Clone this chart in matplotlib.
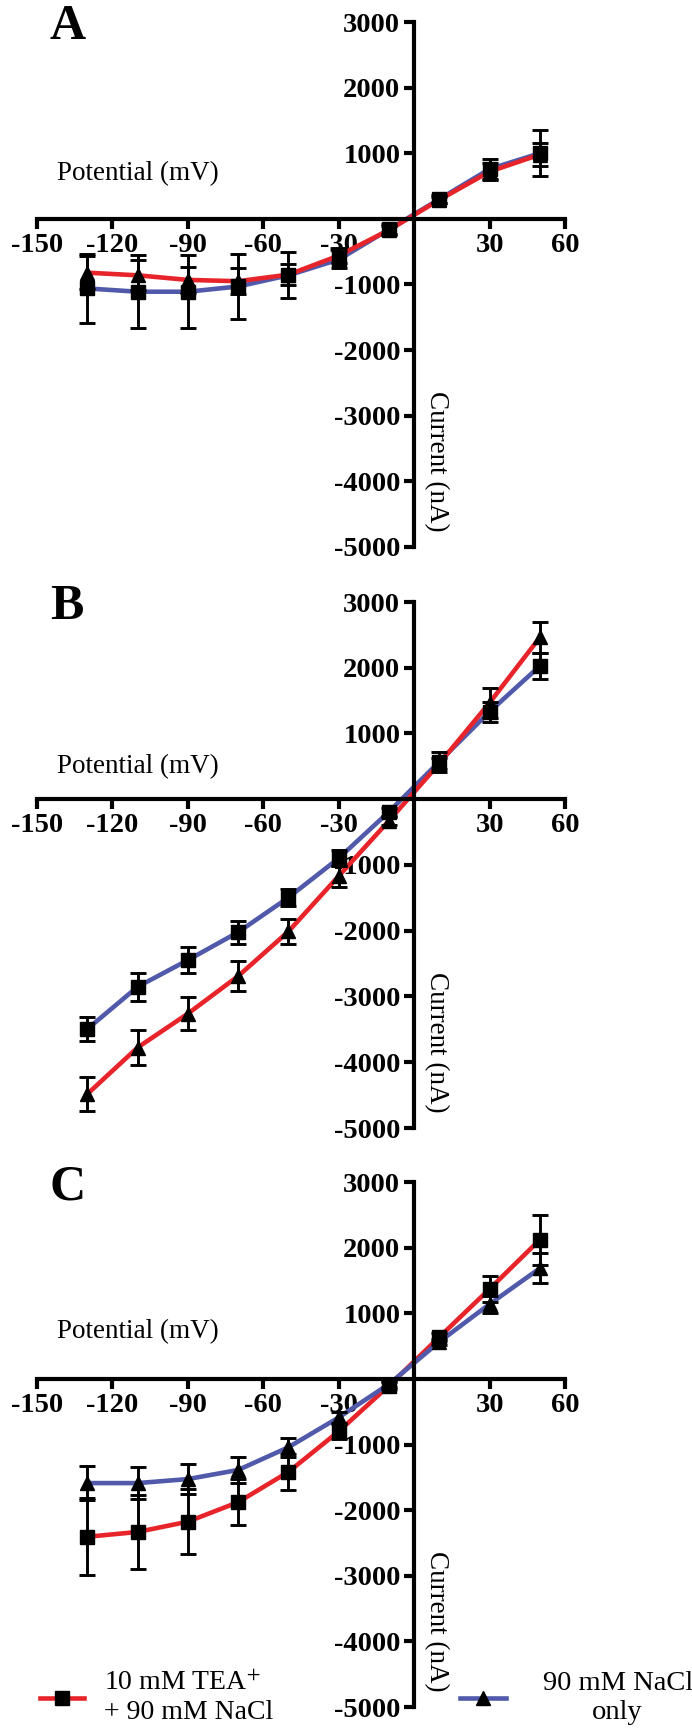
import matplotlib.pyplot as plt
from matplotlib.lines import Line2D

plt.rcParams['font.family'] = ['Liberation Serif', 'DejaVu Serif']
plt.rcParams['mathtext.fontset'] = 'stix'
plt.rcParams['axes.unicode_minus'] = False

red = '#e8242b'
blue = '#5159aa'

# holding potentials (mV)
potential = [-130, -110, -90, -70, -50, -30, -10, 10, 30, 50]

# panel A currents (nA), mean and SEM
a_sq = [-1060, -1110, -1110, -1030, -860, -620, -160, 300, 760, 1000]
a_sq_err = [520, 555, 555, 490, 350, 130, 80, 60, 150, 350]
a_tri = [-820, -860, -930, -950, -850, -560, -170, 290, 720, 980]
a_tri_err = [250, 230, 200, 200, 160, 110, 60, 50, 130, 180]

# panel B
b_sq = [-3495, -2853, -2446, -2022, -1495, -897, -190, 571, 1332, 2027]
b_sq_err = [180, 215, 200, 175, 135, 120, 60, 150, 150, 200]
b_tri = [-4484, -3777, -3261, -2690, -2011, -1168, -326, 543, 1467, 2462]
b_tri_err = [265, 270, 255, 230, 190, 160, 60, 80, 230, 240]

# panel C
c_sq = [-2406, -2333, -2176, -1879, -1418, -800, -103, 636, 1370, 2121]
c_sq_err = [590, 570, 500, 350, 270, 110, 50, 60, 200, 380]
c_tri = [-1588, -1588, -1527, -1388, -1042, -588, -79, 564, 1139, 1685]
c_tri_err = [260, 240, 230, 200, 145, 80, 40, 50, 130, 230]

x_ticks = [-150, -120, -90, -60, -30, 30, 60]
y_ticks = [3000, 2000, 1000, -1000, -2000, -3000, -4000, -5000]

panels = [
    ('A', a_sq, a_sq_err, a_tri, a_tri_err, blue, red, 690),
    ('B', b_sq, b_sq_err, b_tri, b_tri_err, blue, red, 490),
    ('C', c_sq, c_sq_err, c_tri, c_tri_err, red, blue, 715),
]
# top/bottom pixel rows of each panel's y-axis
rows = [(22, 547), (602, 1128), (1182, 1707)]

W, H = 692, 1735
fig = plt.figure(figsize=(W / 100, H / 100), dpi=100)

for (letter, sq, sq_err, tri, tri_err, sq_col, tri_col, lab_y), (top, bot) in zip(panels, rows):
    ax = fig.add_axes([37 / W, 1 - bot / H, 528 / W, (bot - top) / H])
    ax.set_xlim(-150, 60)
    ax.set_ylim(-5000, 3000)

    ax.plot(potential, sq, color=sq_col, lw=3.3, zorder=2)
    ax.plot(potential, tri, color=tri_col, lw=3.3, zorder=2)
    ax.errorbar(potential, tri, yerr=tri_err, fmt='^', color='black', ms=10,
                elinewidth=2.1, capsize=5.5, capthick=2.1, zorder=3)
    ax.errorbar(potential, sq, yerr=sq_err, fmt='s', color='black', ms=9.5,
                elinewidth=2.1, capsize=5.5, capthick=2.1, zorder=3)

    for side in ['top', 'right']:
        ax.spines[side].set_visible(False)
    ax.spines['left'].set_position(('data', 0))
    ax.spines['bottom'].set_position(('data', 0))
    ax.spines['left'].set_linewidth(3)
    ax.spines['bottom'].set_linewidth(3)
    ax.spines['left'].set_bounds(-5000, 3000)
    ax.spines['bottom'].set_bounds(-150, 60)

    ax.set_xticks(x_ticks)
    ax.set_xticklabels([str(t) for t in x_ticks], fontweight='bold')
    ax.set_yticks(y_ticks)
    ax.set_yticklabels([str(t) for t in y_ticks], fontweight='bold')
    ax.tick_params(direction='out', length=7, width=3, labelsize=20.5, pad=3)

    ax.text(-138, 2920, letter, fontsize=36, fontweight='bold', ha='center', va='center')
    ax.text(-110, lab_y, 'Potential (mV)', fontsize=19.5, ha='center', va='center')
    ax.text(9, -3700, 'Current (nA)', fontsize=19.5, rotation=270, ha='center', va='center')
    ax.patch.set_alpha(0)

# legend keys
h_tea = Line2D([], [], color=red, lw=3.3, marker='s', ms=9.5, mfc='black', mec='black')
h_nacl = Line2D([], [], color=blue, lw=3.3, marker='^', ms=10, mfc='black', mec='black')

leg1 = fig.legend([h_tea], ['10 mM TEA$^{+}$\n+ 90 mM NaCl'], loc='center left',
                  bbox_to_anchor=(40 / W, 1 - 1698 / H), frameon=False, fontsize=20,
                  borderpad=0, borderaxespad=0, handlelength=1.6, handletextpad=0.7)
leg2 = fig.legend([h_nacl], ['90 mM NaCl\nonly'], loc='center left',
                  bbox_to_anchor=(460 / W, 1 - 1698 / H), frameon=False, fontsize=20.5,
                  borderpad=0, borderaxespad=0, handlelength=1.6, handletextpad=1.3)
for t in leg2.get_texts():
    t.set_multialignment('center')

fig.savefig('out.png', dpi=100)
